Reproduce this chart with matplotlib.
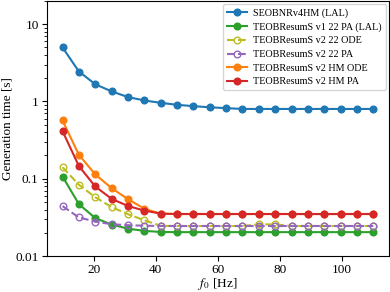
import numpy as np
import matplotlib
matplotlib.use("Agg")
import matplotlib.pyplot as plt

plt.rcParams["font.family"] = ["Liberation Serif", "DejaVu Serif"]
plt.rcParams["mathtext.fontset"] = "stix"

# f0 values [Hz]
f0 = np.linspace(10, 110, 20)

seob_v4hm = [5.0, 2.44, 1.67, 1.35, 1.14, 1.03, 0.96, 0.905, 0.87, 0.84,
             0.82, 0.80, 0.80, 0.80, 0.80, 0.80, 0.80, 0.80, 0.80, 0.80]
teob_v1_22_pa = [0.107, 0.047, 0.031, 0.0256, 0.0226, 0.0212, 0.0205, 0.0204, 0.0204, 0.0204,
                 0.0204, 0.0204, 0.0204, 0.0204, 0.0204, 0.0204, 0.0204, 0.0204, 0.0204, 0.0204]
teob_v2_22_ode = [0.141, 0.0836, 0.0578, 0.043, 0.0348, 0.0291, 0.0246, 0.0245, 0.0245, 0.0245,
                  0.0245, 0.0245, 0.0257, 0.0257, 0.0245, 0.0245, 0.0245, 0.0245, 0.0245, 0.0245]
teob_v2_22_pa = [0.0443, 0.0316, 0.028, 0.0258, 0.0251, 0.0247, 0.0245, 0.0245, 0.0245, 0.0245,
                 0.0245, 0.0245, 0.0245, 0.0245, 0.0245, 0.0245, 0.0245, 0.0245, 0.0245, 0.0245]
teob_v2_hm_ode = [0.568, 0.204, 0.114, 0.0756, 0.0545, 0.041, 0.0352, 0.0350, 0.0350, 0.0350,
                  0.0350, 0.0350, 0.0350, 0.0350, 0.0350, 0.0350, 0.0350, 0.0350, 0.0350, 0.0350]
teob_v2_hm_pa = [0.413, 0.146, 0.0795, 0.055, 0.0445, 0.0387, 0.0355, 0.0350, 0.0350, 0.0350,
                 0.0350, 0.0350, 0.0350, 0.0350, 0.0350, 0.0350, 0.0350, 0.0350, 0.0350, 0.0350]

SERIES = [
    ("SEOBNRv4HM (LAL)", seob_v4hm, "#1f77b4", "-", True),
    ("TEOBResumS v1 22 PA (LAL)", teob_v1_22_pa, "#2ca02c", "-", True),
    ("TEOBResumS v2 22 ODE", teob_v2_22_ode, "#bcbd22", "--", False),
    ("TEOBResumS v2 22 PA", teob_v2_22_pa, "#9467bd", "--", False),
    ("TEOBResumS v2 HM ODE", teob_v2_hm_ode, "#ff7f0e", "-", True),
    ("TEOBResumS v2 HM PA", teob_v2_hm_pa, "#d62728", "-", True),
]

fig = plt.figure(figsize=(3.9, 2.92), dpi=100)
ax = fig.add_axes([0.1205, 0.123, 0.8765, 0.874])

for label, values, color, ls, filled in SERIES:
    ax.plot(f0, values, ls, color=color, marker="o", markersize=4.8, linewidth=1.5,
            markerfacecolor=color if filled else "none", markeredgewidth=1.0,
            label=label)

ax.set_yscale("log")
ax.set_ylim(0.01, 20)
ax.set_yticks([0.01, 0.1, 1, 10])
ax.set_yticklabels(["0.01", "0.1", "1", "10"])
ax.set_xticks([20, 40, 60, 80, 100])
ax.tick_params(labelsize=9.5, pad=2.5)
ax.set_xlabel(r"$f_0$ [Hz]", fontsize=9.5, labelpad=0)
ax.set_ylabel("Generation time [s]", fontsize=9.5, labelpad=1)
ax.legend(loc="upper right", fontsize=7.3, handlelength=2.0, borderaxespad=0.3,
          labelspacing=0.45, handletextpad=0.6)

fig.savefig("out.png", dpi=100)
